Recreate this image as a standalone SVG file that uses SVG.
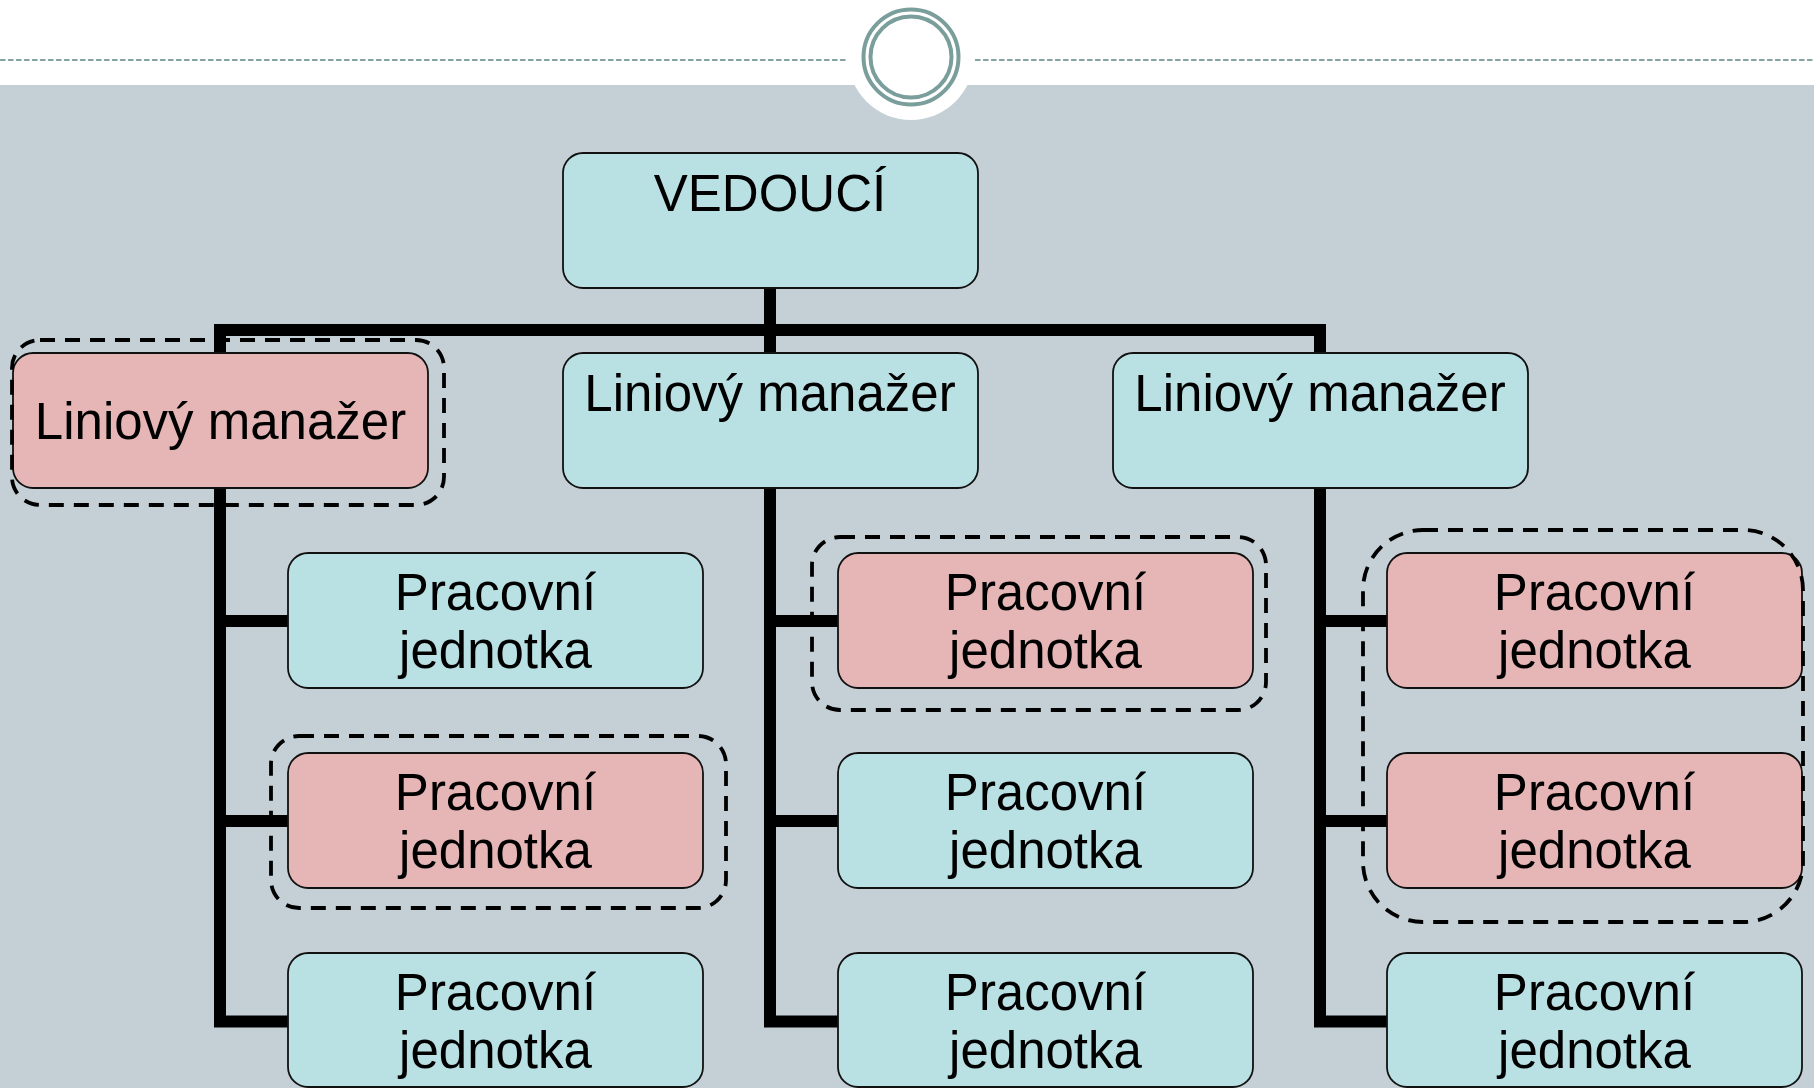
<svg xmlns="http://www.w3.org/2000/svg" width="1814" height="1088" viewBox="0 0 1814 1088">
<style>
.box{stroke:#111;stroke-width:1.8}
.teal{fill:#b9e0e3}
.pink{fill:#e6b6b6}
.lbl{font-family:"Liberation Sans",Arial,sans-serif;font-size:51px;fill:#000;text-anchor:middle}
.conn{fill:none;stroke:#000;stroke-width:12;stroke-linejoin:miter;stroke-linecap:butt}
.grp{fill:none;stroke:#000;stroke-width:3.8;stroke-dasharray:15 10}
</style>
<rect x="0" y="0" width="1814" height="1088" fill="#ffffff"/>
<rect x="0" y="85" width="1814" height="1003" fill="#c5d0d6"/>
<g id="header">
<line x1="0" y1="60" x2="847" y2="60" stroke="#86a4a2" stroke-width="2" stroke-dasharray="5.5 2.5"/>
<line x1="975" y1="60" x2="1814" y2="60" stroke="#86a4a2" stroke-width="2" stroke-dasharray="5.5 2.5"/>
<circle cx="911" cy="57" r="63" fill="#ffffff"/>
<circle cx="911" cy="57" r="47.5" fill="none" stroke="#7a9e9b" stroke-width="4"/>
<circle cx="911" cy="57" r="40.5" fill="none" stroke="#7a9e9b" stroke-width="4"/>
</g>
<g id="connectors">
<path class="conn" d="M770 288 V353"/>
<path class="conn" d="M220 353 V330 H1320 V353"/>
<path class="conn" d="M220 488 V1021.5 H289"/>
<path class="conn" d="M220 621 H289 M220 821 H289"/>
<path class="conn" d="M770 488 V1021.5 H839"/>
<path class="conn" d="M770 621 H839 M770 821 H839"/>
<path class="conn" d="M1320 488 V1021.5 H1389"/>
<path class="conn" d="M1320 621 H1389 M1320 821 H1389"/>
</g>
<g id="vedouci"><rect class="box teal" x="563" y="153" width="415" height="135" rx="20"/><text class="lbl" x="770" y="211">VEDOUCÍ</text></g>
<g id="lm1"><rect class="box pink" x="13" y="353" width="415" height="135" rx="20"/><text class="lbl" x="220.5" y="439">Liniový manažer</text></g>
<g id="lm2"><rect class="box teal" x="563" y="353" width="415" height="135" rx="20"/><text class="lbl" x="770" y="410.5">Liniový manažer</text></g>
<g id="lm3"><rect class="box teal" x="1113" y="353" width="415" height="135" rx="20"/><text class="lbl" x="1320" y="410.5">Liniový manažer</text></g>
<g id="pj11"><rect class="box teal" x="288" y="553" width="415" height="135" rx="20"/><text class="lbl" x="495.5" y="610">Pracovní</text><text class="lbl" x="495.5" y="668">jednotka</text></g>
<g id="pj12"><rect class="box pink" x="288" y="753" width="415" height="135" rx="20"/><text class="lbl" x="495.5" y="810">Pracovní</text><text class="lbl" x="495.5" y="868">jednotka</text></g>
<g id="pj13"><rect class="box teal" x="288" y="953" width="415" height="134" rx="20"/><text class="lbl" x="495.5" y="1010">Pracovní</text><text class="lbl" x="495.5" y="1068">jednotka</text></g>
<g id="pj21"><rect class="box pink" x="838" y="553" width="415" height="135" rx="20"/><text class="lbl" x="1045.5" y="610">Pracovní</text><text class="lbl" x="1045.5" y="668">jednotka</text></g>
<g id="pj22"><rect class="box teal" x="838" y="753" width="415" height="135" rx="20"/><text class="lbl" x="1045.5" y="810">Pracovní</text><text class="lbl" x="1045.5" y="868">jednotka</text></g>
<g id="pj23"><rect class="box teal" x="838" y="953" width="415" height="134" rx="20"/><text class="lbl" x="1045.5" y="1010">Pracovní</text><text class="lbl" x="1045.5" y="1068">jednotka</text></g>
<g id="pj31"><rect class="box pink" x="1387" y="553" width="415" height="135" rx="20"/><text class="lbl" x="1594.5" y="610">Pracovní</text><text class="lbl" x="1594.5" y="668">jednotka</text></g>
<g id="pj32"><rect class="box pink" x="1387" y="753" width="415" height="135" rx="20"/><text class="lbl" x="1594.5" y="810">Pracovní</text><text class="lbl" x="1594.5" y="868">jednotka</text></g>
<g id="pj33"><rect class="box teal" x="1387" y="953" width="415" height="134" rx="20"/><text class="lbl" x="1594.5" y="1010">Pracovní</text><text class="lbl" x="1594.5" y="1068">jednotka</text></g>
<g id="groups">
<rect class="grp" x="12" y="340" width="432" height="165" rx="28"/>
<rect class="grp" x="271" y="736" width="455" height="172" rx="28"/>
<rect class="grp" x="812" y="537" width="454" height="173" rx="28"/>
<rect class="grp" x="1363" y="530" width="440" height="392" rx="60"/>
</g>
</svg>
